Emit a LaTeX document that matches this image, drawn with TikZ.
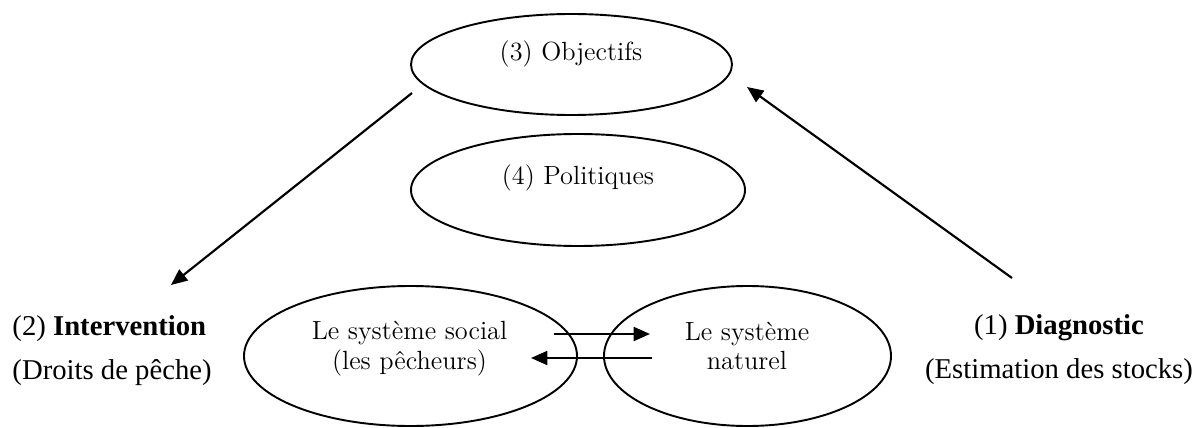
\documentclass[tikz,border=0pt]{standalone}
\usepackage{fontspec}
\newfontfamily\timesfont[BoldFont={Liberation Serif Bold}]{Liberation Serif}
\usetikzlibrary{shapes.geometric}
\usetikzlibrary{arrows.meta}

\def\px{0.4181pt}

\begin{document}
\begin{tikzpicture}[
                          x=\px, y=-\px,
                          bubble/.style={ellipse, draw, line width=0.8pt, inner sep=0pt},
                          bubbletext/.style={font=\fontsize{11}{12.5}\selectfont, align=center, inner sep=0pt},
                          sidetext/.style={font=\timesfont\fontsize{12}{18.2}\selectfont, inner sep=0pt},
                          link/.style={line width=0.9pt, -{Triangle[length=6.8pt, width=5.8pt]}},
                      ]
                      \useasboundingbox (0,0) rectangle (1198,428);

                      %Ellipses
                      \node[bubble, minimum width=321*\px, minimum height=101*\px] (obj)  at (571.5,64.5) {};
                      \node[bubble, minimum width=334*\px, minimum height=112*\px] (pol)  at (578,190)    {};
                      \node[bubble, minimum width=333*\px, minimum height=140*\px] (soc)  at (410.5,356)  {};
                      \node[bubble, minimum width=287*\px, minimum height=140*\px] (nat)  at (747.5,356)  {};

                      %Texts
                      \node[bubbletext] (objtext) at (571,53.5)  {(3) Objectifs};
                      \node[bubbletext] (poltext) at (578,177.5) {(4) Politiques};
                      \node[bubbletext] (soctext) at (409.5,349) {Le système social\\(les pêcheurs)};
                      \node[bubbletext] (nattext) at (747,346)   {Le système\\naturel};
                      \node[sidetext, anchor=base west, align=left]  (interv) at (12,379)   {(2) \textbf{Intervention}\\(Droits de pêche)};
                      \node[sidetext, anchor=base, align=center]     (diag)   at (1059,378) {(1) \textbf{Diagnostic}\\(Estimation des stocks)};

                      %Ends
                      \coordinate (objsw)  at (412,93);
                      \coordinate (intvn)  at (171,285);
                      \coordinate (diagn)  at (1012,278);
                      \coordinate (objse)  at (747,87);
                      \coordinate (socout) at (554,334);
                      \coordinate (natin)  at (650,334);
                      \coordinate (natout) at (652,358);
                      \coordinate (socin)  at (531,358);

                      %Lines
                      \draw[link] (objsw) -- (intvn);
                      \draw[link] (diagn) -- (objse);
                      \draw[link] (socout) -- (natin);
                      \draw[link] (natout) -- (socin);
                  \end{tikzpicture}
\end{document}
